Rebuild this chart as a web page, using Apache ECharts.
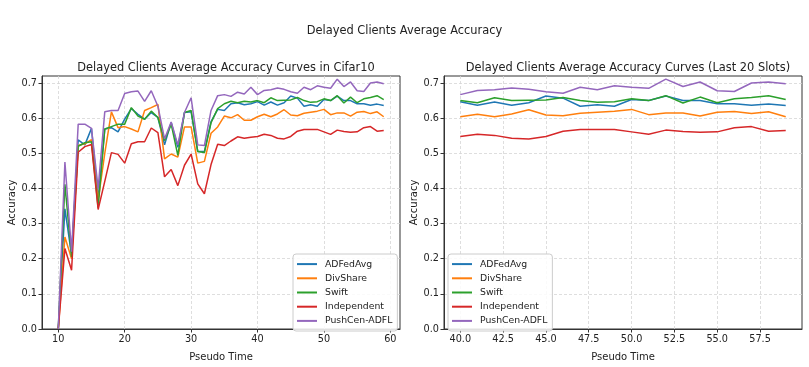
<!DOCTYPE html>
<html>
<head>
<meta charset="utf-8">
<script src="https://cdn.jsdelivr.net/npm/echarts@6/dist/echarts.min.js"></script>
<style>
html,body{margin:0;padding:0;background:#fff;}
#c{width:809px;height:367px;}
</style>
</head>
<body>
<div id="c"></div>
<script>
const pseudoTime = [10,11,12,13,14,15,16,17,18,19,20,21,22,23,24,25,26,27,28,29,30,31,32,33,34,35,36,37,38,39,40,41,42,43,44,45,46,47,48,49,50,51,52,53,54,55,56,57,58,59];
const seriesNames = ['ADFedAvg','DivShare','Swift','Independent','PushCen-ADFL'];
const adfedavg = [0,0.342,0.21,0.538,0.524,0.571,0.37,0.569,0.573,0.561,0.597,0.627,0.611,0.597,0.616,0.602,0.524,0.588,0.517,0.616,0.618,0.505,0.505,0.59,0.625,0.622,0.641,0.644,0.638,0.641,
  0.647,0.637,0.646,0.637,0.644,0.663,0.657,0.634,0.638,0.634,0.653,0.65,0.663,0.65,0.65,0.641,0.641,0.637,0.64,0.636];
const divshare = [0,0.262,0.2,0.522,0.527,0.539,0.365,0.50,0.618,0.573,0.576,0.569,0.561,0.622,0.63,0.639,0.484,0.498,0.489,0.575,0.575,0.472,0.477,0.557,0.575,0.606,0.601,0.61,0.594,0.594,
  0.604,0.611,0.604,0.612,0.624,0.609,0.607,0.614,0.617,0.62,0.625,0.61,0.615,0.615,0.606,0.617,0.619,0.613,0.618,0.604];
const swift = [0,0.412,0.205,0.52,0.53,0.533,0.345,0.569,0.576,0.583,0.583,0.63,0.606,0.597,0.62,0.602,0.536,0.583,0.494,0.616,0.622,0.505,0.502,0.587,0.627,0.641,0.648,0.644,0.648,0.646,
  0.65,0.644,0.658,0.65,0.651,0.652,0.659,0.65,0.645,0.647,0.655,0.65,0.664,0.643,0.66,0.644,0.655,0.659,0.664,0.653];
const independent = [0,0.229,0.167,0.503,0.519,0.525,0.34,0.42,0.502,0.497,0.472,0.527,0.533,0.533,0.572,0.559,0.433,0.454,0.408,0.466,0.498,0.413,0.385,0.468,0.526,0.522,0.535,0.547,0.543,0.546,
  0.548,0.554,0.551,0.543,0.541,0.548,0.563,0.568,0.568,0.568,0.561,0.554,0.566,0.562,0.56,0.561,0.573,0.576,0.563,0.565];
const pushcen = [0,0.475,0.22,0.583,0.583,0.571,0.40,0.618,0.622,0.622,0.67,0.675,0.677,0.648,0.678,0.634,0.541,0.589,0.524,0.616,0.658,0.524,0.522,0.622,0.664,0.667,0.662,0.674,0.669,0.688,
  0.667,0.679,0.681,0.686,0.682,0.675,0.671,0.688,0.681,0.692,0.688,0.685,0.711,0.69,0.703,0.678,0.676,0.7,0.703,0.698];
const leftXTicks = [10,20,30,40,50,60];
const rightXTicks = [40,42.5,45,47.5,50,52.5,55,57.5];
const yTicks = [0,0.1,0.2,0.3,0.4,0.5,0.6,0.7];
const lastN = 20;

const colors = ['#1f77b4','#ff7f0e','#2ca02c','#d62728','#9467bd'];
const allValues = [adfedavg, divshare, swift, independent, pushcen];
const FONT = 'DejaVu Sans';

function pairs(vals, start) {
  const out = [];
  for (let i = start; i < vals.length; i++) out.push([pseudoTime[i], vals[i]]);
  return out;
}

const series = [];
allValues.forEach((vals, k) => {
  series.push({name: seriesNames[k], type: 'line', xAxisIndex: 0, yAxisIndex: 0,
    data: pairs(vals, 0), showSymbol: false, symbol: 'none',
    lineStyle: {width: 1.5, color: colors[k]}, itemStyle: {color: colors[k]}, animation: false, z: 2 + k});
  series.push({name: seriesNames[k], type: 'line', xAxisIndex: 1, yAxisIndex: 1,
    data: pairs(vals, pseudoTime.length - lastN), showSymbol: false, symbol: 'none',
    lineStyle: {width: 1.5, color: colors[k]}, itemStyle: {color: colors[k]}, animation: false, z: 2 + k});
});

const axisText = {fontFamily: FONT, fontSize: 9.7, color: '#222'};
const splitLine = {show: true, lineStyle: {color: '#d6d6d6', type: [3, 2], width: 0.8}};

function xAxis(idx, min, max, ticks, fmt) {
  return {type: 'value', gridIndex: idx, min: min, max: max,
    name: 'Pseudo Time', nameLocation: 'middle', nameGap: 23,
    nameTextStyle: {fontFamily: FONT, fontSize: 10, color: '#222'},
    axisLine: {show: true, onZero: false, lineStyle: {color: '#333', width: 1}},
    axisTick: {show: true, length: 3.5, customValues: ticks, lineStyle: {color: '#333'}},
    axisLabel: Object.assign({customValues: ticks, margin: 5, formatter: fmt}, axisText),
    splitLine: splitLine};
}
function yAxis(idx) {
  return {type: 'value', gridIndex: idx, min: 0, max: 0.72,
    name: 'Accuracy', nameLocation: 'middle', nameGap: 25, nameRotate: 90,
    nameTextStyle: {fontFamily: FONT, fontSize: 10, color: '#222'},
    axisLine: {show: true, onZero: false, lineStyle: {color: '#333', width: 1}},
    axisTick: {show: true, length: 3.5, customValues: yTicks, lineStyle: {color: '#333'}},
    axisLabel: Object.assign({customValues: yTicks, margin: 5, formatter: v => v.toFixed(1)}, axisText),
    splitLine: splitLine};
}

function legend(left) {
  return {show: true, orient: 'vertical', left: left, top: 254, data: seriesNames,
    icon: 'rect', itemWidth: 20, itemHeight: 2, itemGap: 0,
    padding: [3, 5, 3, 4],
    backgroundColor: 'rgba(255,255,255,0.85)', borderColor: '#cccccc', borderWidth: 1, borderRadius: 3,
    textStyle: {fontFamily: FONT, fontSize: 9.3, color: '#222', lineHeight: 14.2, padding: [0, 0, 0, 3]},
    selectedMode: false};
}

const option = {
  animation: false,
  backgroundColor: '#fff',
  color: colors,
  title: [
    {text: 'Delayed Clients Average Accuracy', left: 'center', top: 21,
      textStyle: {fontFamily: FONT, fontSize: 11.4, fontWeight: 'normal', color: '#222'}},
    {text: 'Delayed Clients Average Accuracy Curves in Cifar10', left: 221, textAlign: 'center', top: 58,
      textStyle: {fontFamily: FONT, fontSize: 11.4, fontWeight: 'normal', color: '#222'}},
    {text: 'Delayed Clients Average Accuracy Curves (Last 20 Slots)', left: 623, textAlign: 'center', top: 58,
      textStyle: {fontFamily: FONT, fontSize: 11.4, fontWeight: 'normal', color: '#222'}}
  ],
  grid: [
    {left: 42, top: 76, width: 358, height: 257, show: true, borderColor: '#333', borderWidth: 1, containLabel: false},
    {left: 444, top: 76, width: 358, height: 257, show: true, borderColor: '#333', borderWidth: 1, containLabel: false}
  ],
  xAxis: [
    xAxis(0, 7.55, 61.45, leftXTicks, v => String(Math.round(v))),
    xAxis(1, 39.05, 59.95, rightXTicks, v => Number(v).toFixed(1))
  ],
  yAxis: [yAxis(0), yAxis(1)],
  legend: [legend(293), legend(448)],
  series: series
};

const chart = echarts.init(document.getElementById('c'), null, {renderer: 'canvas'});
chart.setOption(option);
</script>
</body>
</html>
